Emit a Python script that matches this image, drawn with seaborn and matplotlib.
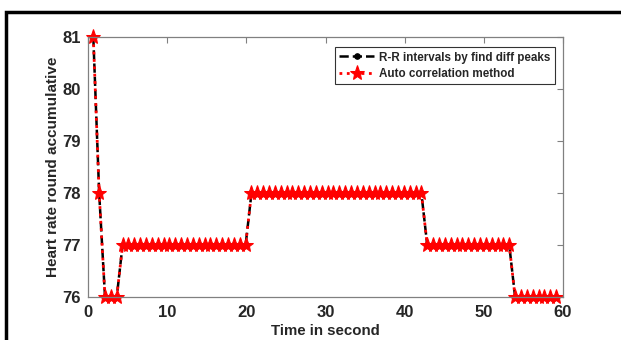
"""
Heart rate estimate over time: R-R peaks vs auto correlation
"""
import numpy as np
import pandas as pd
import matplotlib
matplotlib.use("Agg")
import matplotlib.pyplot as plt
import seaborn as sns
from matplotlib.patches import Rectangle

# time stamps (s) of each estimate
time_s = [0.67, 1.41, 2.15, 2.89, 3.63, 4.37, 5.11, 5.85, 6.59, 7.33,
          8.07, 8.81, 9.55, 10.29, 11.03, 11.77, 12.51, 13.25, 13.99, 14.73,
          15.47, 16.21, 16.95, 17.69, 18.43, 19.17, 19.91, 20.65, 21.39, 22.13,
          22.87, 23.61, 24.35, 25.09, 25.83, 26.57, 27.31, 28.05, 28.79, 29.53,
          30.27, 31.01, 31.75, 32.49, 33.23, 33.97, 34.71, 35.45, 36.19, 36.93,
          37.67, 38.41, 39.15, 39.89, 40.63, 41.37, 42.11, 42.85, 43.59, 44.33,
          45.07, 45.81, 46.55, 47.29, 48.03, 48.77, 49.51, 50.25, 50.99, 51.73,
          52.47, 53.21, 53.95, 54.69, 55.43, 56.17, 56.91, 57.65, 58.39, 59.13]

# heart rate from R-R intervals (find diff peaks)
hr_rr = [81, 78, 76, 76, 76, 77, 77, 77, 77, 77,
         77, 77, 77, 77, 77, 77, 77, 77, 77, 77,
         77, 77, 77, 77, 77, 77, 77, 78, 78, 78,
         78, 78, 78, 78, 78, 78, 78, 78, 78, 78,
         78, 78, 78, 78, 78, 78, 78, 78, 78, 78,
         78, 78, 78, 78, 78, 78, 78, 77, 77, 77,
         77, 77, 77, 77, 77, 77, 77, 77, 77, 77,
         77, 77, 76, 76, 76, 76, 76, 76, 76, 76]

# heart rate from auto correlation method
hr_ac = [81, 78, 76, 76, 76, 77, 77, 77, 77, 77,
         77, 77, 77, 77, 77, 77, 77, 77, 77, 77,
         77, 77, 77, 77, 77, 77, 77, 78, 78, 78,
         78, 78, 78, 78, 78, 78, 78, 78, 78, 78,
         78, 78, 78, 78, 78, 78, 78, 78, 78, 78,
         78, 78, 78, 78, 78, 78, 78, 77, 77, 77,
         77, 77, 77, 77, 77, 77, 77, 77, 77, 77,
         77, 77, 76, 76, 76, 76, 76, 76, 76, 76]

x_ticks = [0, 10, 20, 30, 40, 50, 60]
y_ticks = [76, 77, 78, 79, 80, 81]

sns.set_style("white")
plt.rcParams['font.family'] = ['Liberation Sans', 'DejaVu Sans']
plt.rcParams['font.weight'] = 'bold'

df = pd.DataFrame({'t': time_s, 'rr': hr_rr, 'ac': hr_ac})

fig = plt.figure(figsize=(6.21, 3.40), dpi=100)
ax = fig.add_axes([88 / 621, 1 - 297 / 340, 475 / 621, 260 / 340])

sns.lineplot(data=df, x='t', y='rr', ax=ax, color='black', linestyle='--',
             linewidth=1.8, marker='o', markersize=4, markeredgecolor='black',
             clip_on=False, label='R-R intervals by find diff peaks')
sns.lineplot(data=df, x='t', y='ac', ax=ax, color='red', linestyle=':',
             linewidth=2, marker='*', markersize=11, markeredgecolor='red',
             clip_on=False, label='Auto correlation method')

ax.set_xlim(0, 60)
ax.set_ylim(76, 81)
ax.set_xticks(x_ticks)
ax.set_yticks(y_ticks)
ax.tick_params(direction='in', length=4, width=0.8, color='#808080',
               top=True, right=True, labelsize=12, labelcolor='#262626')
ax.tick_params(axis='x', pad=5.5)
ax.tick_params(axis='y', pad=5)
for lab in ax.get_xticklabels() + ax.get_yticklabels():
    lab.set_fontweight('bold')
for sp in ax.spines.values():
    sp.set_color('#808080')
    sp.set_linewidth(0.9)

ax.set_xlabel('Time in second', fontsize=10.8, fontweight='bold',
              color='#262626', labelpad=3)
ax.set_ylabel('Heart rate round accumulative', fontsize=11, fontweight='bold',
              color='#262626', labelpad=2)

leg = ax.legend(loc='upper right', bbox_to_anchor=(0.983, 0.962), fontsize=8.4,
                frameon=True, fancybox=False, handlelength=3.0,
                handletextpad=0.4, borderpad=0.4, labelspacing=0.35,
                borderaxespad=0)
leg.get_frame().set_edgecolor('black')
leg.get_frame().set_linewidth(0.8)
for txt in leg.get_texts():
    txt.set_fontweight('bold')
styles = [('--', 'o', 4), (':', '*', 11)]
for h, (ls, mk, ms) in zip(leg.legend_handles, styles):
    h.set_linestyle(ls)
    h.set_marker(mk)
    h.set_markersize(ms)

# black frame around the figure (cut off on right/bottom in the original)
fig.patches.append(Rectangle((6 / 621, -0.2), 1.2, 1 - 12 / 340 + 0.2,
                             transform=fig.transFigure, fill=False,
                             edgecolor='black', linewidth=2.5))

fig.savefig('out.png', dpi=100)
